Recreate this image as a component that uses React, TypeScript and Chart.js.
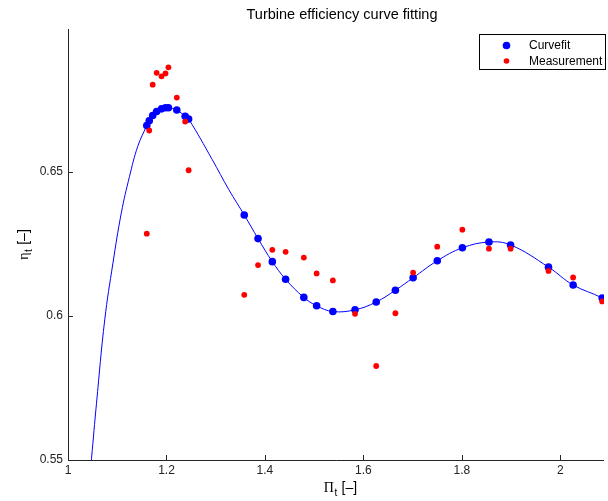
import React, { useEffect, useRef } from 'react';
import { Chart, registerables } from 'chart.js';
Chart.register(...registerables);

const TITLE = 'Turbine efficiency curve fitting';
const LEGEND_LABELS = ['Curvefit', 'Measurement'];

// Measurement points
const measX = [1.160, 1.165, 1.172, 1.180, 1.190, 1.198, 1.204, 1.221, 1.238, 1.245,
  1.358, 1.386, 1.415, 1.442, 1.479, 1.505, 1.538, 1.583, 1.626, 1.665,
  1.701, 1.750, 1.801, 1.855, 1.899, 1.976, 2.026, 2.085];
const measY = [0.6285, 0.6643, 0.6802, 0.6843, 0.6831, 0.6841, 0.6862, 0.6757, 0.6674, 0.6505,
  0.6073, 0.6176, 0.6229, 0.6222, 0.6202, 0.6147, 0.6123, 0.6007, 0.5826, 0.6009,
  0.6150, 0.6240, 0.6299, 0.6233, 0.6233, 0.6156, 0.6133, 0.6050];

// Curve-fit values evaluated at measurement x
const fitY = [0.6660, 0.6677, 0.6695, 0.6709, 0.6718, 0.6722, 0.6722, 0.6714, 0.6692, 0.6683,
  0.6350, 0.6268, 0.6188, 0.6127, 0.6064, 0.6035, 0.6015, 0.6021, 0.6048, 0.6089,
  0.6132, 0.6191, 0.6236, 0.6256, 0.6246, 0.6169, 0.6107, 0.6062];

// Continuous fitted curve
const curveX = [1.0459, 1.0478, 1.0579, 1.0746, 1.0913, 1.1083, 1.1250, 1.1417,
  1.160, 1.165, 1.172, 1.180, 1.190, 1.198, 1.204, 1.221, 1.238, 1.245,
  1.293, 1.3266, 1.358, 1.386, 1.415, 1.442, 1.479, 1.505, 1.538, 1.583, 1.626, 1.665,
  1.701, 1.750, 1.801, 1.855, 1.899, 1.976, 2.026, 2.085, 2.095];
const curveY = [0.5470, 0.5506, 0.5697, 0.5986, 0.6183, 0.6357, 0.6484, 0.6588,
  0.6660, 0.6677, 0.6695, 0.6709, 0.6718, 0.6722, 0.6722, 0.6714, 0.6692, 0.6683,
  0.6542, 0.6438, 0.6350, 0.6268, 0.6188, 0.6127, 0.6064, 0.6035, 0.6015, 0.6021, 0.6048, 0.6089,
  0.6132, 0.6191, 0.6236, 0.6256, 0.6246, 0.6169, 0.6107, 0.6062, 0.6045];

const X_MIN = 1;
const X_MAX = 2.0887;
const Y_MIN = 0.55;
const Y_MAX = 0.6995;

const SANS = "'Liberation Sans', Arial, Helvetica, sans-serif";
const SERIF = "'Liberation Serif', 'Times New Roman', serif";

function drawSubLabel(ctx: CanvasRenderingContext2D, main: string, sub: string, rest: string,
  cx: number, cy: number, size: number, rotate: boolean) {
  ctx.save();
  ctx.translate(cx, cy);
  if (rotate) ctx.rotate(-Math.PI / 2);
  const big = `${size}px ${SERIF}`;
  const small = `${Math.round(size * 0.72)}px ${SANS}`;
  const restFont = `${size}px ${SANS}`;
  ctx.font = big;
  const w1 = ctx.measureText(main).width;
  ctx.font = small;
  const w2 = ctx.measureText(sub).width;
  ctx.font = restFont;
  const w3 = ctx.measureText(rest).width;
  const total = w1 + w2 + w3;
  const x0 = -total / 2;
  ctx.textAlign = 'left';
  ctx.textBaseline = 'alphabetic';
  ctx.fillStyle = '#000';
  ctx.font = big;
  ctx.fillText(main, x0, size * 0.35);
  ctx.font = small;
  ctx.fillText(sub, x0 + w1 + 0.5, size * 0.35 + size * 0.3);
  ctx.font = restFont;
  ctx.fillText(rest, x0 + w1 + w2 + 1, size * 0.35);
  ctx.restore();
}

const decorPlugin = {
  id: 'decor',
  afterDraw(chart: any) {
    const { ctx, chartArea, scales } = chart;
    const xs = scales.x;
    const ys = scales.y;
    ctx.save();
    // axes lines
    ctx.strokeStyle = '#262626';
    ctx.lineWidth = 1;
    ctx.beginPath();
    ctx.moveTo(chartArea.left + 0.5, chartArea.top);
    ctx.lineTo(chartArea.left + 0.5, chartArea.bottom + 0.5);
    ctx.lineTo(chartArea.right, chartArea.bottom + 0.5);
    ctx.stroke();
    // inward ticks
    xs.ticks.forEach((t: any) => {
      const px = Math.round(xs.getPixelForValue(t.value)) + 0.5;
      ctx.beginPath();
      ctx.moveTo(px, chartArea.bottom);
      ctx.lineTo(px, chartArea.bottom - 5);
      ctx.stroke();
    });
    ys.ticks.forEach((t: any) => {
      const py = Math.round(ys.getPixelForValue(t.value)) + 0.5;
      ctx.beginPath();
      ctx.moveTo(chartArea.left, py);
      ctx.lineTo(chartArea.left + 5, py);
      ctx.stroke();
    });
    // title
    ctx.fillStyle = '#000';
    ctx.font = `14.5px ${SANS}`;
    ctx.textAlign = 'center';
    ctx.textBaseline = 'alphabetic';
    ctx.fillText(TITLE, 342, 18.5);
    // axis labels
    drawSubLabel(ctx, 'Π', 't', ' [–]', 340, 487, 14, false);
    drawSubLabel(ctx, 'η', 't', ' [–]', 23, 245, 14, true);
    // legend
    const lx = 479, ly = 34, lw = 126, lh = 35;
    ctx.fillStyle = '#fff';
    ctx.fillRect(lx, ly, lw, lh);
    ctx.strokeStyle = '#000';
    ctx.strokeRect(lx + 0.5, ly + 0.5, lw, lh);
    ctx.fillStyle = '#0000ff';
    ctx.beginPath();
    ctx.arc(506.5, 45.5, 3.8, 0, Math.PI * 2);
    ctx.fill();
    ctx.fillStyle = '#ff0000';
    ctx.beginPath();
    ctx.arc(506.5, 61, 2.8, 0, Math.PI * 2);
    ctx.fill();
    ctx.fillStyle = '#000';
    ctx.font = `12px ${SANS}`;
    ctx.textAlign = 'left';
    ctx.textBaseline = 'middle';
    ctx.fillText(LEGEND_LABELS[0], 529, 45.5);
    ctx.fillText(LEGEND_LABELS[1], 529, 61.5);
    ctx.restore();
  },
};

export default function App() {
  const ref = useRef<HTMLCanvasElement>(null);
  useEffect(() => {
    if (!ref.current) return;
    const curveData = curveX.map((x, i) => ({ x, y: curveY[i] }));
    const fitData = measX.map((x, i) => ({ x, y: fitY[i] }));
    const measData = measX.map((x, i) => ({ x, y: measY[i] }));
    const chart = new Chart(ref.current, {
      type: 'scatter',
      data: {
        datasets: [
          {
            label: 'Measurement',
            data: measData,
            backgroundColor: '#ff0000',
            borderColor: '#ff0000',
            pointRadius: 2.9,
            borderWidth: 0,
            order: 0,
          } as any,
          {
            label: 'Curvefit',
            data: fitData,
            backgroundColor: '#0000ff',
            borderColor: '#0000ff',
            pointRadius: 3.8,
            borderWidth: 0,
            order: 1,
          } as any,
          {
            type: 'line',
            label: 'curve',
            data: curveData,
            borderColor: '#0000ff',
            borderWidth: 1,
            pointRadius: 0,
            showLine: true,
            fill: false,
            tension: 0.4,
            order: 2,
          } as any,
        ],
      },
      options: {
        responsive: false,
        animation: false,
        devicePixelRatio: 1,
        layout: { padding: { top: 29, right: 0, left: 0, bottom: 0 } },
        plugins: {
          legend: { display: false },
          title: { display: false },
          tooltip: { enabled: false },
        },
        scales: {
          x: {
            type: 'linear',
            min: X_MIN,
            max: X_MAX,
            grid: { display: false, drawTicks: false },
            border: { display: false },
            afterFit: (s: any) => { s.height = 41; },
            ticks: {
              stepSize: 0.2,
              includeBounds: false,
              padding: 3,
              color: '#222',
              font: { family: SANS, size: 12 },
              maxRotation: 0,
              callback: (v: any) => String(Math.round(Number(v) * 10) / 10),
            },
          },
          y: {
            type: 'linear',
            min: Y_MIN,
            max: Y_MAX,
            grid: { display: false, drawTicks: false },
            border: { display: false },
            afterFit: (s: any) => { s.width = 68; },
            ticks: {
              stepSize: 0.05,
              includeBounds: false,
              padding: 5,
              color: '#222',
              font: { family: SANS, size: 12 },
              callback: (v: any) => String(Math.round(Number(v) * 100) / 100),
            },
          },
        },
      },
      plugins: [decorPlugin],
    });
    return () => chart.destroy();
  }, []);
  return (
    <div style={{ position: 'fixed', left: 0, top: 0, width: 608, height: 501, background: '#fff' }}>
      <canvas ref={ref} width={608} height={501} style={{ width: 608, height: 501, display: 'block' }} />
    </div>
  );
}
